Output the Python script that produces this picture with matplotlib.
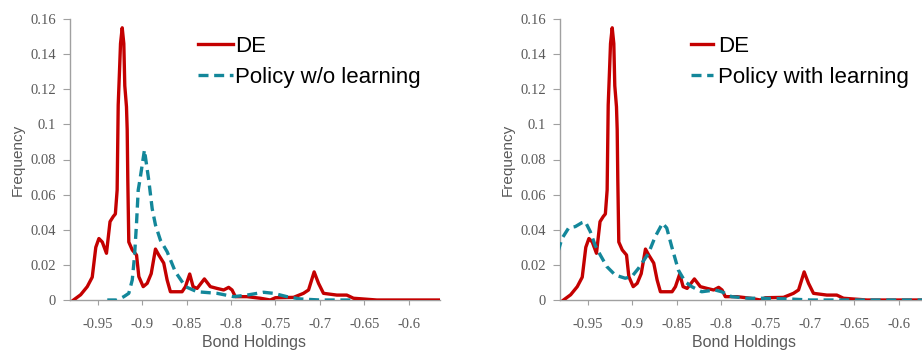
import matplotlib
matplotlib.use('Agg')
import matplotlib.pyplot as plt
from matplotlib.lines import Line2D


# bond holdings distribution
de_x = [-0.977, -0.969, -0.9616, -0.956, -0.952, -0.9485, -0.9447, -0.940, -0.936,
        -0.9324, -0.930, -0.928, -0.9268, -0.9253, -0.9242, -0.9223, -0.9205,
        -0.9194, -0.9175, -0.9167, -0.9160, -0.9149, -0.911, -0.9062, -0.9036,
        -0.8987, -0.8942, -0.8897, -0.8849, -0.8812, -0.8756, -0.8718, -0.8681,
        -0.855, -0.8512, -0.8464, -0.8426, -0.8381, -0.8299, -0.8232, -0.8157,
        -0.8082, -0.8026, -0.7988, -0.7951, -0.782, -0.767, -0.7558, -0.75,
        -0.7297, -0.7185, -0.7128, -0.7065, -0.7016, -0.696, -0.681, -0.6698,
        -0.6623, -0.636, -0.565]
de_y = [0.0, 0.003, 0.0076, 0.013, 0.030, 0.035, 0.033, 0.0266, 0.0446,
        0.0475, 0.049, 0.0626, 0.111, 0.131, 0.146, 0.155, 0.146,
        0.122, 0.110, 0.097, 0.068, 0.033, 0.0285, 0.0256, 0.0133,
        0.0076, 0.0095, 0.015, 0.029, 0.0256, 0.021, 0.0114, 0.0047,
        0.0047, 0.0076, 0.0148, 0.0076, 0.0066, 0.012, 0.0076, 0.0066,
        0.0057, 0.0072, 0.0057, 0.0019, 0.0019, 0.001, 0.0, 0.0013,
        0.0015, 0.0038, 0.0057, 0.016, 0.0095, 0.0038, 0.0028, 0.0028,
        0.001, 0.0, 0.0]

nolearn_x = [-0.9391, -0.9279, -0.9205, -0.9149, -0.911, -0.9085, -0.9062, -0.9043,
             -0.9025, -0.8973, -0.8924, -0.8886, -0.8849, -0.8793, -0.8718, -0.8625,
             -0.8512, -0.8381, -0.8157, -0.797, -0.782, -0.7634, -0.7521, -0.7371,
             -0.7222, -0.6997, -0.6623]
nolearn_y = [0.0, 0.0, 0.0019, 0.0038, 0.0114, 0.0247, 0.0437, 0.0626,
             0.068, 0.0854, 0.068, 0.052, 0.0427, 0.034, 0.0275, 0.016,
             0.0076, 0.0047, 0.0038, 0.0019, 0.0028, 0.0044, 0.0038, 0.0019,
             0.0006, 0.0, 0.0]

learn_x = [-0.9833, -0.9788, -0.9713, -0.9638, -0.9564, -0.9526, -0.947, -0.9414,
           -0.9357, -0.9283, -0.9189, -0.9077, -0.9003, -0.8928, -0.8815, -0.874,
           -0.8658, -0.861, -0.8554, -0.8479, -0.8403, -0.8329, -0.8217, -0.8067,
           -0.7993, -0.7881, -0.7693, -0.75, -0.72, -0.70, -0.565]
learn_y = [0.0275, 0.035, 0.041, 0.0418, 0.044, 0.0446, 0.039, 0.031,
           0.0256, 0.019, 0.0142, 0.0124, 0.0133, 0.018, 0.0266, 0.036,
           0.0437, 0.041, 0.0304, 0.017, 0.0104, 0.0076, 0.0047, 0.0057,
           0.0047, 0.0019, 0.001, 0.001, 0.0005, 0.0, 0.0]

xticks = [-0.95, -0.9, -0.85, -0.8, -0.75, -0.7, -0.65, -0.6]
xtick_labels = ['-0.95', '-0.9', '-0.85', '-0.8', '-0.75', '-0.7', '-0.65', '-0.6']
yticks = [0, 0.02, 0.04, 0.06, 0.08, 0.1, 0.12, 0.14, 0.16]
ytick_labels = ['0', '0.02', '0.04', '0.06', '0.08', '0.1', '0.12', '0.14', '0.16']

RED = '#c40000'
TEAL = '#13879a'
GRAY = '#a0a0a0'
TXT = '#5a5a5a'

fig = plt.figure(figsize=(9.22, 3.5), dpi=100)
ax1 = fig.add_axes([70 / 922, 50 / 350, 370 / 922, 281 / 350])
ax2 = fig.add_axes([560 / 922, 50 / 350, 370 / 922, 281 / 350])

panels = [
    (ax1, nolearn_x, nolearn_y, 'Policy w/o learning', 1.58, 0.08, 0.346, 0.497),
    (ax2, learn_x, learn_y, 'Policy with learning', 1.0, 0.2, 0.354, (254 + 490 - 560) / 370),
]

for ax, px, py, lab, hlen, hpad, lx, xl in panels:
    ax.plot(de_x, de_y, color=RED, lw=2.4, zorder=3)
    ax.plot(px, py, color=TEAL, lw=2.4, dashes=(3, 1.7), zorder=4)

    ax.set_xlim(-0.981, -0.565)
    ax.set_ylim(0, 0.16)
    for s in ['top', 'right']:
        ax.spines[s].set_visible(False)
    for s in ['left', 'bottom']:
        ax.spines[s].set_color(GRAY)
        ax.spines[s].set_linewidth(1.0)

    ax.set_xticks(xticks)
    ax.set_xticklabels(xtick_labels)
    ax.set_yticks(yticks)
    ax.set_yticklabels(ytick_labels)
    ax.tick_params(axis='x', direction='out', length=3.6, width=0.8,
                   color=GRAY, pad=9, labelcolor=TXT)
    ax.tick_params(axis='y', direction='out', length=5, width=0.8,
                   color=GRAY, pad=5, labelcolor=TXT)
    for t in ax.get_xticklabels() + ax.get_yticklabels():
        t.set_family('Liberation Serif')
        t.set_fontsize(10.5)

    ax.set_xlabel('Bond Holdings', family='Liberation Sans', fontsize=11.5,
                  color=TXT, va='top')
    ax.set_ylabel('Frequency', family='Liberation Sans', fontsize=11,
                  color=TXT)
    ax.yaxis.set_label_coords(-0.123, 0.5)
    ax.xaxis.set_label_coords(xl, -0.125)

    handles = [Line2D([], [], color=RED, lw=2.4),
               Line2D([], [], color=TEAL, lw=2.4, dashes=(3, 1.7))]
    ax.legend(handles, ['DE', lab], loc='upper left', bbox_to_anchor=(lx, 0.94),
              frameon=False, borderpad=0, borderaxespad=0, handlelength=hlen,
              handletextpad=hpad, labelspacing=0.44,
              prop={'family': 'Liberation Sans', 'size': 16})

fig.savefig('out.png', dpi=100)
